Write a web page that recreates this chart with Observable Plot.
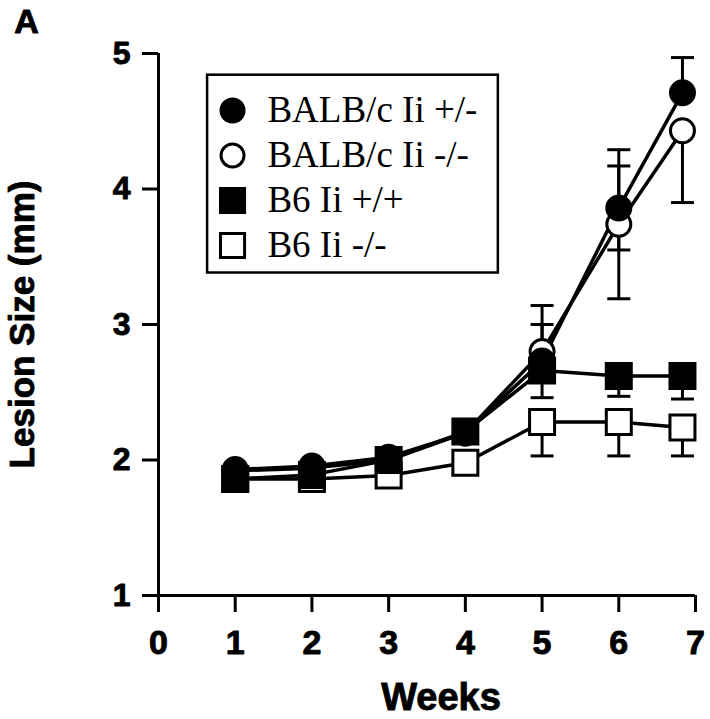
<!DOCTYPE html>
<html>
<head>
<meta charset="utf-8">
<script src="https://cdn.jsdelivr.net/npm/d3@7"></script>
<script src="https://cdn.jsdelivr.net/npm/@observablehq/plot@0.6"></script>
<style>
  html, body { margin: 0; padding: 0; background: #fff; }
  #chart svg { display: block; background: #fff; }
</style>
</head>
<body>
<div id="chart"></div>
<script>
// ---- data ----
const weeks = [1, 2, 3, 4, 5, 6, 6.83];
const seriesNames = ["BALB/c Ii +/-", "BALB/c Ii -/-", "B6 Ii +/+", "B6 Ii -/-"];
const balbHet = [1.93, 1.955, 2.02, 2.20, 2.73, 3.86, 4.71];
const balbKO  = [1.92, 1.94, 2.00, 2.20, 2.80, 3.74, 4.43];
const b6WT    = [1.86, 1.89, 2.00, 2.21, 2.66, 2.62, 2.62];
const b6KO    = [1.86, 1.86, 1.885, 1.98, 2.28, 2.28, 2.24];
// visible error bar half-lengths (upward / downward)
const balbHetErrUp   = [0, 0, 0, 0, 0.27, 0.31, 0.26];
const balbHetErrDown = [0, 0, 0, 0, 0, 0.31, 0];
const balbKOErrUp    = [0, 0, 0, 0, 0.34, 0.55, 0];
const balbKOErrDown  = [0, 0, 0, 0, 0, 0.55, 0.53];
const b6WTErrUp      = [0, 0, 0, 0, 0, 0, 0];
const b6WTErrDown    = [0, 0, 0, 0, 0.20, 0.15, 0.17];
const b6KOErrUp      = [0, 0, 0, 0, 0, 0, 0];
const b6KOErrDown    = [0, 0, 0, 0, 0.25, 0.25, 0.21];
const xTicks = [0, 1, 2, 3, 4, 5, 6, 7];
const yTicks = [1, 2, 3, 4, 5];

// ---- build tables ----
const values = [balbHet, balbKO, b6WT, b6KO];
const ups = [balbHetErrUp, balbKOErrUp, b6WTErrUp, b6KOErrUp];
const downs = [balbHetErrDown, balbKOErrDown, b6WTErrDown, b6KOErrDown];
const rows = [];
const errs = [];
seriesNames.forEach((s, k) => {
  weeks.forEach((w, i) => {
    rows.push({series: s, x: w, y: values[k][i]});
    if (ups[k][i] > 0) errs.push({x: w, y: values[k][i], y2: values[k][i] + ups[k][i]});
    if (downs[k][i] > 0) errs.push({x: w, y: values[k][i], y2: values[k][i] - downs[k][i]});
  });
});
const bySeries = s => rows.filter(d => d.series === s);

const capSymbol = {
  draw(ctx, size) {
    const r = Math.sqrt(size / Math.PI);
    ctx.moveTo(-r, 0);
    ctx.lineTo(r, 0);
  }
};

const styles = [
  {symbol: "circle", fill: "black", r: 12},
  {symbol: "circle", fill: "white", r: 12},
  {symbol: "square", fill: "black", r: 14.1},
  {symbol: "square", fill: "white", r: 14.1}
];
const drawOrder = [1, 0, 3, 2];

// legend layout (data units)
const legendBox = {x1: 0.64, x2: 4.43, y1: 3.38, y2: 4.84};
const legendRows = seriesNames.map((s, i) => ({label: s, i, x: 0.965, tx: 1.42, y: 4.579 - i * 0.332}));

const sans = "'Liberation Sans', Arial, Helvetica, sans-serif";
const serif = "'Liberation Serif', 'Times New Roman', Times, serif";
const heavy = {fontWeight: "bold", fontFamily: sans, fill: "black", stroke: "black", strokeWidth: 0.9};

const marks = [
  Plot.ruleY([1], {stroke: "black", strokeWidth: 3}),
  Plot.ruleX([0], {stroke: "black", strokeWidth: 3}),
  Plot.axisX(xTicks, {tickSize: 17, tickPadding: 17, strokeWidth: 3, fontSize: 34, fontWeight: "bold", fontFamily: sans, textStroke: "black", textStrokeWidth: 0.9, tickFormat: d => String(d), label: null}),
  Plot.axisY(yTicks, {tickSize: 16, tickPadding: 12, strokeWidth: 3, fontSize: 32, fontWeight: "bold", fontFamily: sans, textStroke: "black", textStrokeWidth: 0.9, tickFormat: d => String(d), label: null}),
  Plot.line(rows, {x: "x", y: "y", z: "series", stroke: "black", strokeWidth: 3.5}),
  Plot.ruleX(errs, {x: "x", y1: "y", y2: "y2", stroke: "black", strokeWidth: 3}),
  Plot.dot(errs, {x: "x", y: "y2", symbol: capSymbol, r: 11.5, stroke: "black", strokeWidth: 3, fill: "none"}),
  ...drawOrder.map(k => Plot.dot(bySeries(seriesNames[k]), {
    x: "x", y: "y", symbol: styles[k].symbol, r: styles[k].r,
    fill: styles[k].fill, stroke: "black", strokeWidth: 3
  })),
  // legend
  Plot.rect([legendBox], {x1: "x1", x2: "x2", y1: "y1", y2: "y2", fill: "white", stroke: "black", strokeWidth: 2.5}),
  ...legendRows.map(d => Plot.dot([d], {
    x: "x", y: "y", symbol: styles[d.i].symbol, r: styles[d.i].r - 0.5,
    fill: styles[d.i].fill, stroke: "black", strokeWidth: 3
  })),
  Plot.text(legendRows, {x: "tx", y: "y", text: "label", textAnchor: "start", fontSize: 37, fontFamily: serif, fill: "black"}),
  // axis titles and panel letter
  Plot.text(["Weeks"], {frameAnchor: "bottom", textAnchor: "middle", lineAnchor: "middle", dy: 102, dx: 14, fontSize: 38, ...heavy}),
  Plot.text(["Lesion Size (mm)"], {frameAnchor: "left", textAnchor: "middle", lineAnchor: "middle", dx: -136, rotate: -90, fontSize: 35, ...heavy}),
  Plot.text(["A"], {frameAnchor: "top-left", textAnchor: "middle", lineAnchor: "middle", dx: -132, dy: -31, fontSize: 34, ...heavy})
];

const chart = Plot.plot({
  width: 710,
  height: 719,
  marginLeft: 158,
  marginRight: 15,
  marginTop: 53,
  marginBottom: 124,
  x: {domain: [0, 7]},
  y: {domain: [1, 5]},
  style: {background: "white", color: "black", fontFamily: sans},
  marks
});
document.getElementById("chart").appendChild(chart);
</script>
</body>
</html>
